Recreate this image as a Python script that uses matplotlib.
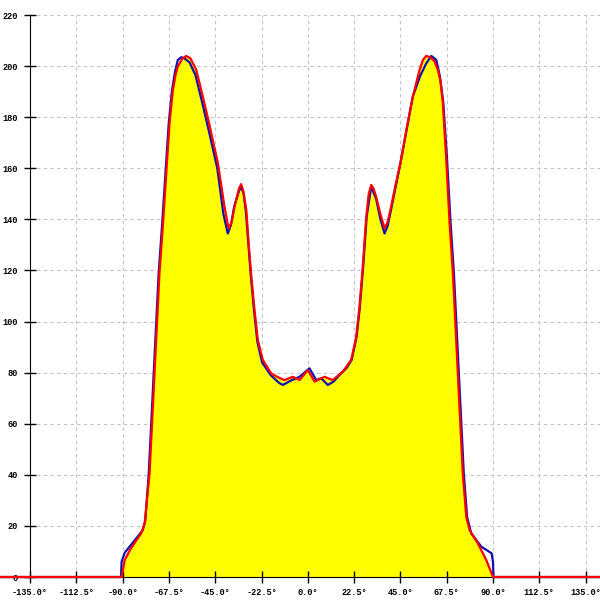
import matplotlib
matplotlib.use('Agg')
from matplotlib import pyplot as plt

# red trace (degrees, value)
red_angle = [-180, -90.5, -89, -86.5, -84.2, -81, -79.3, -76.9, -75.3, -73.7, -72.1, -70.5, -68.8,
             -67.2, -65.6, -64.3, -63.2, -61, -59.1, -57, -54.2, -51, -47.8, -43.7, -40.5, -39, -38.4,
             -37, -35.6, -33.5, -32.4, -31.3, -29.9, -28.7, -27.5, -25.9, -24.3, -21.9, -17.8,
             -14, -11.3, -7.3, -4, 0, 3.3, 8.1, 12.1, 17, 21.1, 23.5, 25.1, 26.7, 28.4, 29.6,
             30.8, 32, 33.2, 35.3, 37.3, 38.8, 40.5, 42.5, 45, 48, 51, 54.3, 56, 57.5, 59.5,
             61.5, 63.2, 64.5, 65.6, 67.2, 68.9, 70.5, 72.1, 73.7, 75.3, 77, 78.6, 82.6, 86.7, 90, 180]
red_value = [0, 0, 6.6, 10.5, 13.3, 17.1, 21, 40.7, 66.7, 92.8, 118.9, 137, 158,
             177.6, 190.6, 196.5, 199.8, 203, 204, 203, 198.5, 188, 177, 162, 145, 138.5, 136.5,
             139, 145, 152, 153.8, 151, 143.7, 130, 118, 104.5, 92.8, 85, 79.7,
             78, 77.1, 78.4, 77.1, 81, 76.5, 78.4, 77.1, 80.4, 85, 94, 105.8, 121.5, 141, 150,
             153.5, 152, 148.9, 142, 136.5, 139, 145, 153, 162, 175.5, 188, 198.5, 202.5, 204, 203.5,
             202, 198.5, 194, 186, 164.5, 138.5, 118.9, 92.8, 66.7, 40.6, 23.6, 18.4, 13.2, 6.7, 0, 0]

# blue trace (degrees, value)
blue_angle = [-180, -90.8, -90.5, -89, -86.6, -83.4, -80.2, -79, -77.3, -75.7, -74.1, -72.5, -70.9,
              -69.2, -67.6, -66, -64.5, -63.2, -61.5, -59.9, -57.5, -54.6, -51.4, -48.2, -44, -41,
              -38.9, -37.3, -35.8, -33.5, -32.4, -31.2, -30.1, -27.7, -26.1, -24.5, -22.2, -18,
              -14, -12.1, -8, -4, 0.8, 4.1, 6.5, 9.7, 12.5, 15.4, 19, 21.3, 23.7, 25.3, 26.9,
              28.6, 30.8, 33.2, 35.3, 37.3, 38.8, 40.5, 45, 51, 54.5, 57.5, 60, 62.4, 64.2, 65.8,
              67.6, 69.4, 71, 72.6, 74.2, 75.8, 77.4, 79.4, 84.3, 89.3, 90, 90.2, 180]
blue_value = [0, 0, 6, 9.5, 11.9, 15.1, 18.4, 22, 40.7, 66.7, 92.8, 118.9, 137,
              158, 177.6, 190.6, 198, 202.4, 203.5, 203, 201.5, 196.5, 186, 175, 160, 142,
              134.5, 138, 145, 151, 152.8, 150, 143, 118, 104, 92, 84, 79,
              76, 75.2, 77, 78.4, 81.7, 77.1, 77.8, 75.2, 76.5, 79.1, 82, 85, 94, 105.8, 121.5,
              141, 152.8, 148, 140, 134.5, 137.5, 144, 162, 188, 196, 201, 204, 202.5, 196, 186,
              164.5, 138.5, 118.9, 92.8, 66.7, 40.6, 23.6, 17.1, 11.9, 9.3, 6, 0, 0]

x_ticks = [-135.0, -112.5, -90.0, -67.5, -45.0, -22.5, 0.0, 22.5, 45.0, 67.5, 90.0, 112.5, 135.0]
y_ticks = [0, 20, 40, 60, 80, 100, 120, 140, 160, 180, 200, 220]

fig = plt.figure(figsize=(6, 6), dpi=100)
ax = fig.add_axes([0, 0, 1, 1])
ax.set_xlim(-149.6, 142.0)
ax.set_ylim(-9.0, 225.9)

grid_style = dict(color='#c4c4c4', linewidth=0.8, linestyle=(0, (3, 3)), zorder=0)
ax.vlines(x_ticks[1:], 0, y_ticks[-1], **grid_style)
ax.hlines(y_ticks[1:], x_ticks[0], 142.0, **grid_style)

ax.fill_between(red_angle, red_value, 0, color='#ffff00', linewidth=0, zorder=1)
ax.plot(blue_angle, blue_value, color='#1010b0', linewidth=1.6, zorder=2)
ax.plot(red_angle, red_value, color='#ff0000', linewidth=1.6, zorder=3)

for side in ['top', 'right']:
    ax.spines[side].set_visible(False)
ax.spines['left'].set_position(('data', x_ticks[0]))
ax.spines['left'].set_bounds(0, y_ticks[-1])
ax.spines['bottom'].set_position(('data', 0))
ax.spines['bottom'].set_zorder(2.5)

font = dict(family='Liberation Mono', size=6.2, weight='bold')
ax.set_xticks(x_ticks)
ax.set_xticklabels(['%.1f°' % t for t in x_ticks], **font)
ax.set_yticks(y_ticks)
ax.set_yticklabels([str(t) for t in y_ticks], **font)
ax.tick_params(direction='inout', length=8, width=1, color='black', pad=4)
ax.tick_params(axis='y', pad=5)

fig.savefig('out.png', dpi=100)
